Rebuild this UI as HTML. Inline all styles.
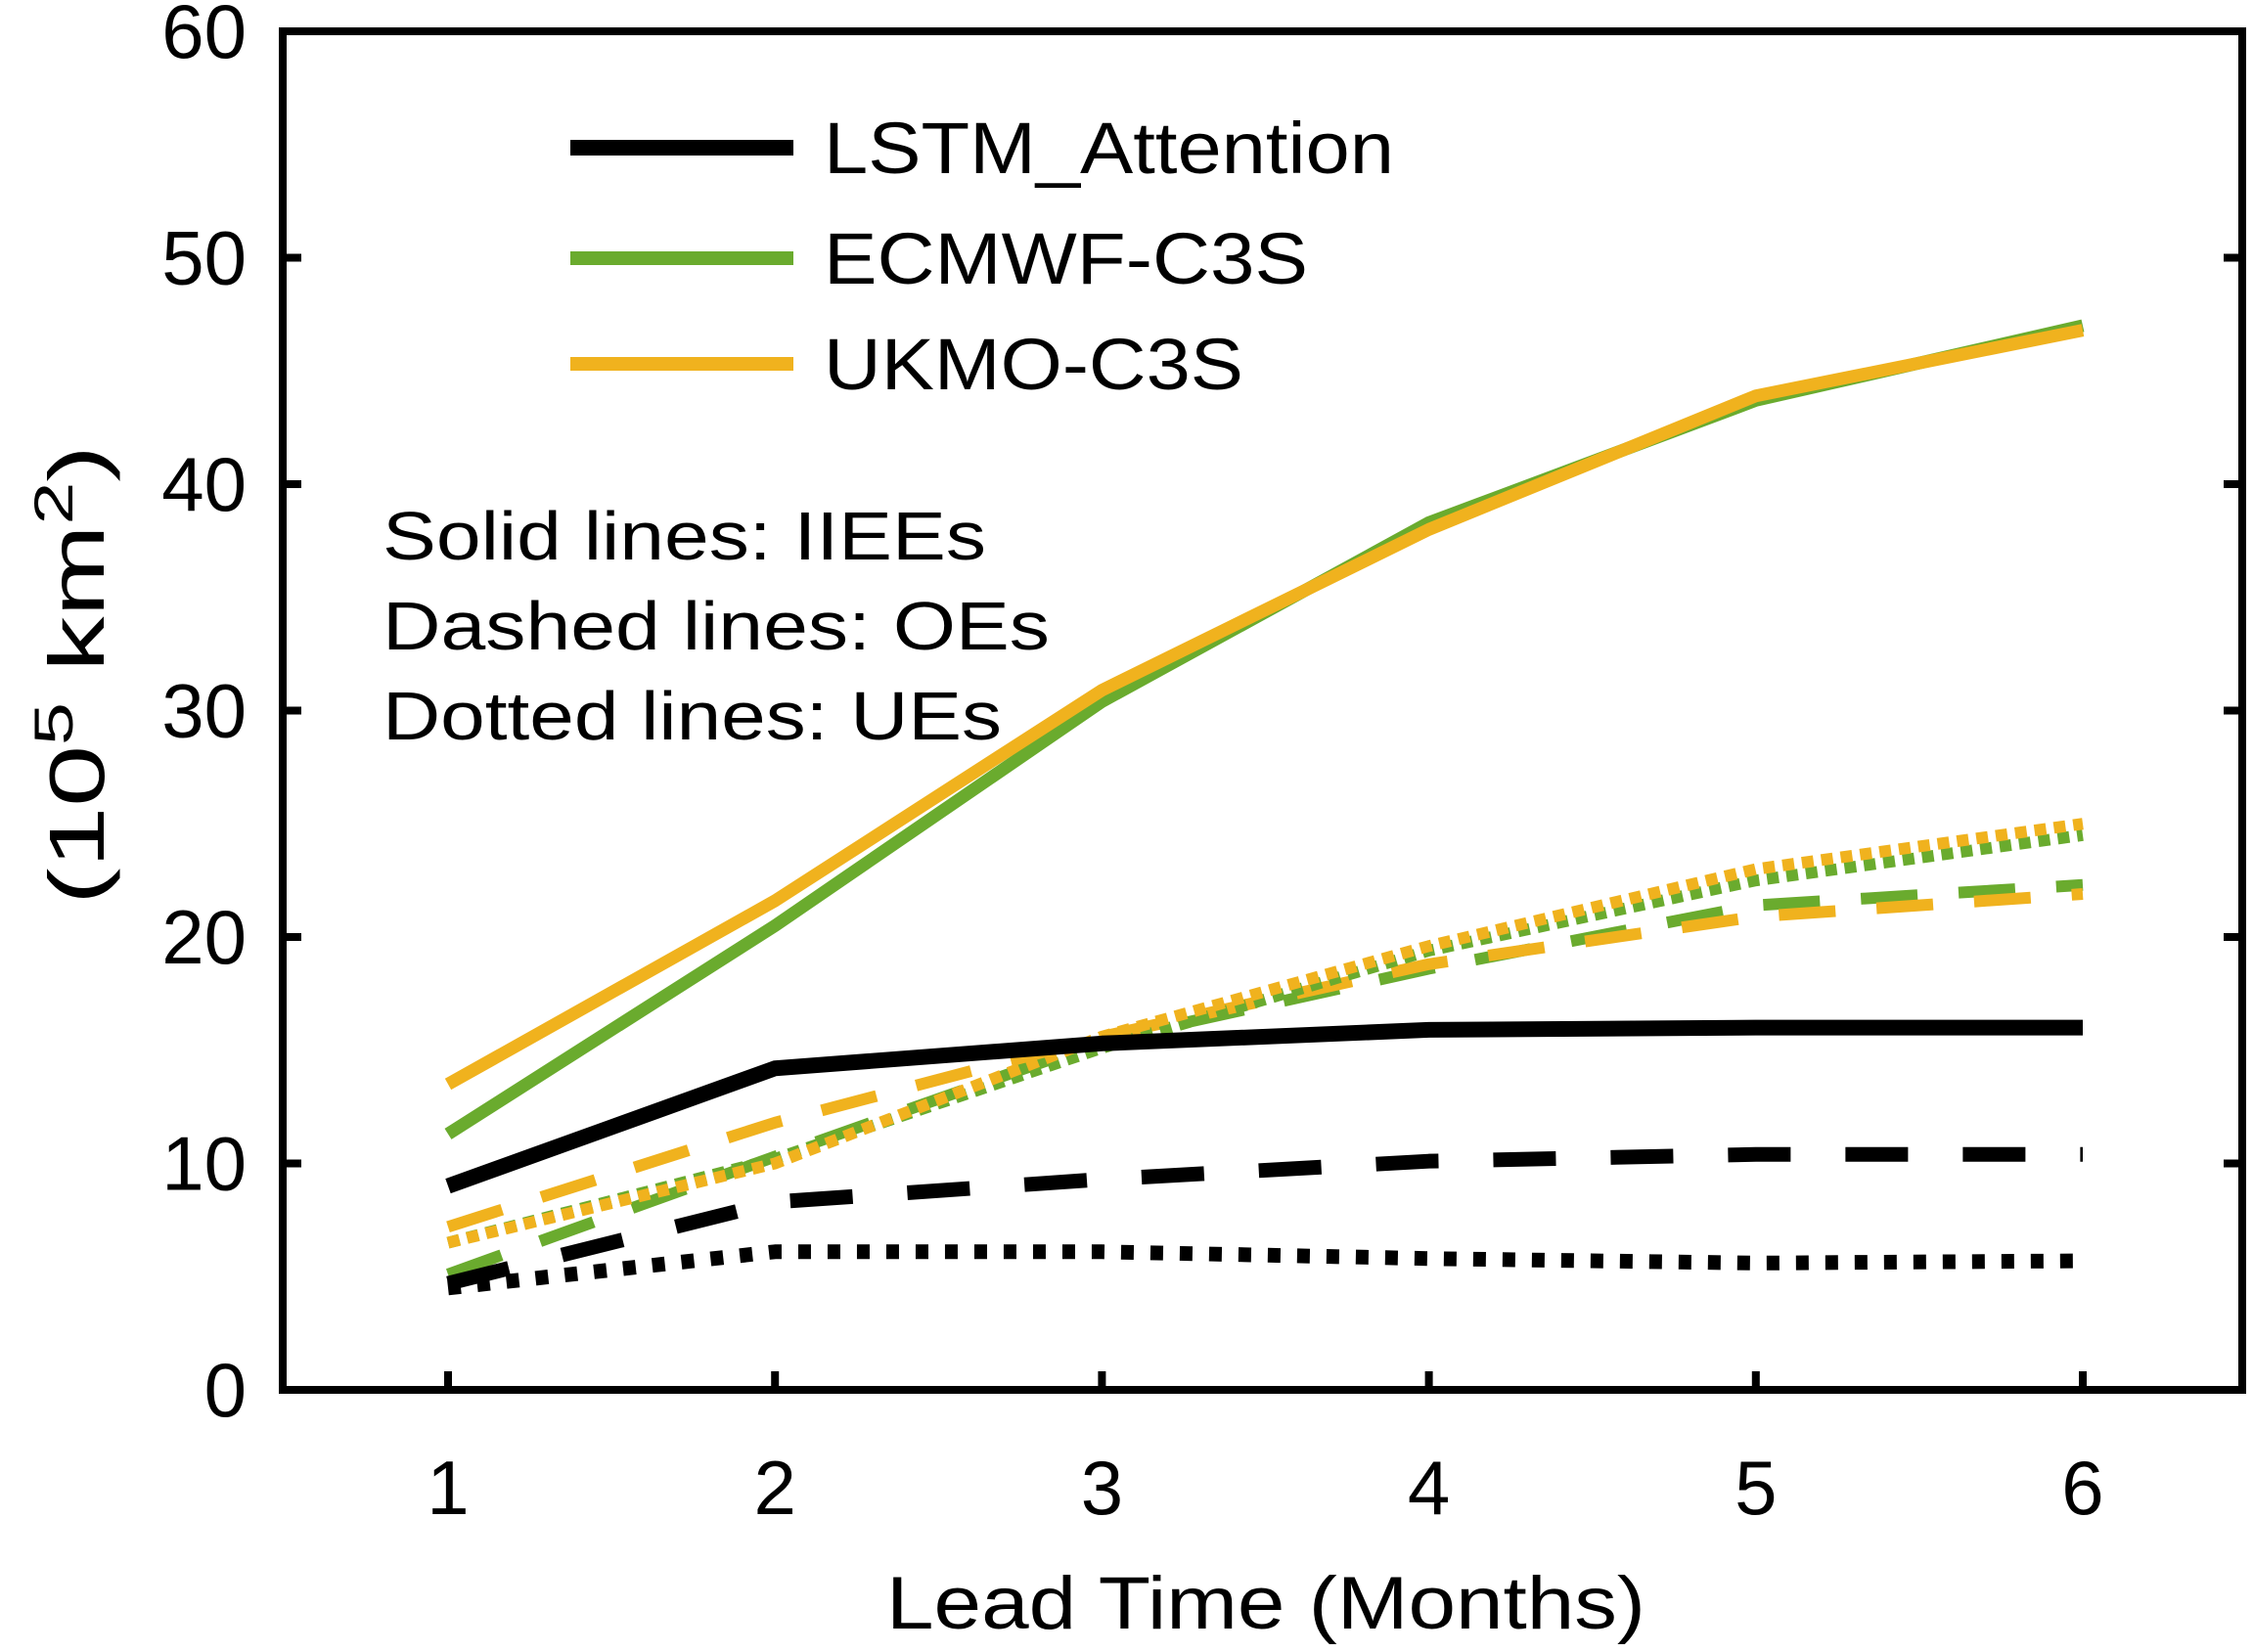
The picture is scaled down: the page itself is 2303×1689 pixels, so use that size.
<!DOCTYPE html>
<html><head><meta charset="utf-8"><style>
html,body{margin:0;padding:0;background:#fff;}
svg{display:block;font-family:"Liberation Sans",Arial,sans-serif;}
</style></head><body>
<svg id="chart" width="2303" height="1689" viewBox="0 0 2303 1689"></svg>
<script>
const xCategories=[1,2,3,4,5,6];
const yTicks=[0,10,20,30,40,50,60];
const lstmIIEE=[9.0,14.2,15.3,15.9,16.0,16.0];
const lstmOE=[4.7,8.3,9.3,10.1,10.4,10.4];
const lstmUE=[4.5,6.1,6.1,5.8,5.6,5.7];
const ecmwfIIEE=[11.3,20.5,30.4,38.3,43.7,47.0];
const ecmwfOE=[5.1,10.3,15.4,18.6,21.4,22.3];
const ecmwfUE=[6.5,10.2,15.1,19.4,22.5,24.5];
const ukmoIIEE=[13.5,21.6,30.9,38.0,43.9,46.8];
const ukmoOE=[7.2,11.8,15.6,18.8,20.9,21.9];
const ukmoUE=[6.5,10.0,15.6,19.6,23.0,25.0];

const NS="http://www.w3.org/2000/svg";
const svg=document.getElementById('chart');
const L=289,R=2292,T=32,B=1421;
const X=v=>458+(v-1)*(2129-458)/5;
const Y=v=>B-v*(B-T)/60;
function mk(tag,attrs,parent){const e=document.createElementNS(NS,tag);for(const k in attrs)e.setAttribute(k,attrs[k]);(parent||svg).appendChild(e);return e;}

const BLK="#000",GRN="#6aab2e",YEL="#f0b21e";
const series=[
 [ecmwfOE,GRN,12,"58 42","ecmwf-oe-line"],
 [ukmoOE,YEL,12,"58 42","ukmo-oe-line"],
 [ecmwfUE,GRN,12,"12 8","ecmwf-ue-line"],
 [ukmoUE,YEL,12,"12 8","ukmo-ue-line"],
 [lstmOE,BLK,15,"64 56","lstm-oe-line"],
 [lstmUE,BLK,15,"13 17","lstm-ue-line"],
 [lstmIIEE,BLK,16,"","lstm-iiee-line"],
 [ecmwfIIEE,GRN,13,"","ecmwf-iiee-line"],
 [ukmoIIEE,YEL,13,"","ukmo-iiee-line"]
];
series.forEach(s=>{
 const d=s[0].map((v,i)=>(i?'L':'M')+X(xCategories[i])+' '+Y(v)).join(' ');
 const p=mk('path',{d:d,fill:'none',stroke:s[1],'stroke-width':s[2],'stroke-dasharray':s[3]||'none','stroke-linejoin':'round'});
 
 
});

const box=mk('rect',{x:L,y:T,width:R-L,height:B-T,fill:'none',stroke:'#000','stroke-width':8});



yTicks.forEach(v=>{
 mk('line',{x1:L,x2:L+19,y1:Y(v),y2:Y(v),stroke:'#000','stroke-width':8});
 mk('line',{x1:R,x2:R-19,y1:Y(v),y2:Y(v),stroke:'#000','stroke-width':8});
 const t=mk('text',{x:252,y:Y(v)+27,'text-anchor':'end','font-size':78,fill:'#000'});
 t.textContent=v;
 
 
});
xCategories.forEach(v=>{
 mk('line',{x1:X(v),x2:X(v),y1:B,y2:B-19,stroke:'#000','stroke-width':8});
 const t=mk('text',{x:X(v),y:1548,'text-anchor':'middle','font-size':78,fill:'#000'});
 t.textContent=v;
 
 
});
</script>
<svg width="2303" height="1689" style="position:absolute;left:0;top:0">
 <text x="906" y="1665" font-size="76" textLength="776" lengthAdjust="spacingAndGlyphs" font-family="Liberation Sans, sans-serif">Lead Time (Months)</text>
 <text transform="translate(106,690) rotate(-90)" text-anchor="middle" font-size="80" textLength="470" lengthAdjust="spacingAndGlyphs" font-family="Liberation Sans, sans-serif">(10<tspan dy="-32" font-size="56">5</tspan><tspan dy="32"> km</tspan><tspan dy="-32" font-size="56">2</tspan><tspan dy="32">)</tspan></text>
 <g font-family="Liberation Sans, sans-serif" font-size="74">
  <line x1="583" x2="811" y1="151" y2="151" stroke="#000" stroke-width="16"/>
  <text x="842" y="177" textLength="583" lengthAdjust="spacingAndGlyphs">LSTM_Attention</text>
  <line x1="583" x2="811" y1="264" y2="264" stroke="#6aab2e" stroke-width="14"/>
  <text x="842" y="290" textLength="495" lengthAdjust="spacingAndGlyphs">ECMWF-C3S</text>
  <line x1="583" x2="811" y1="372" y2="372" stroke="#f0b21e" stroke-width="14"/>
  <text x="842" y="398" textLength="429" lengthAdjust="spacingAndGlyphs">UKMO-C3S</text>
 </g>
 <g font-family="Liberation Sans, sans-serif" font-size="70">
  <text x="391" y="572" textLength="617" lengthAdjust="spacingAndGlyphs">Solid lines: IIEEs</text>
  <text x="391" y="664" textLength="682" lengthAdjust="spacingAndGlyphs">Dashed lines: OEs</text>
  <text x="391" y="756" textLength="633" lengthAdjust="spacingAndGlyphs">Dotted lines: UEs</text>
 </g>
</svg>
</body></html>
